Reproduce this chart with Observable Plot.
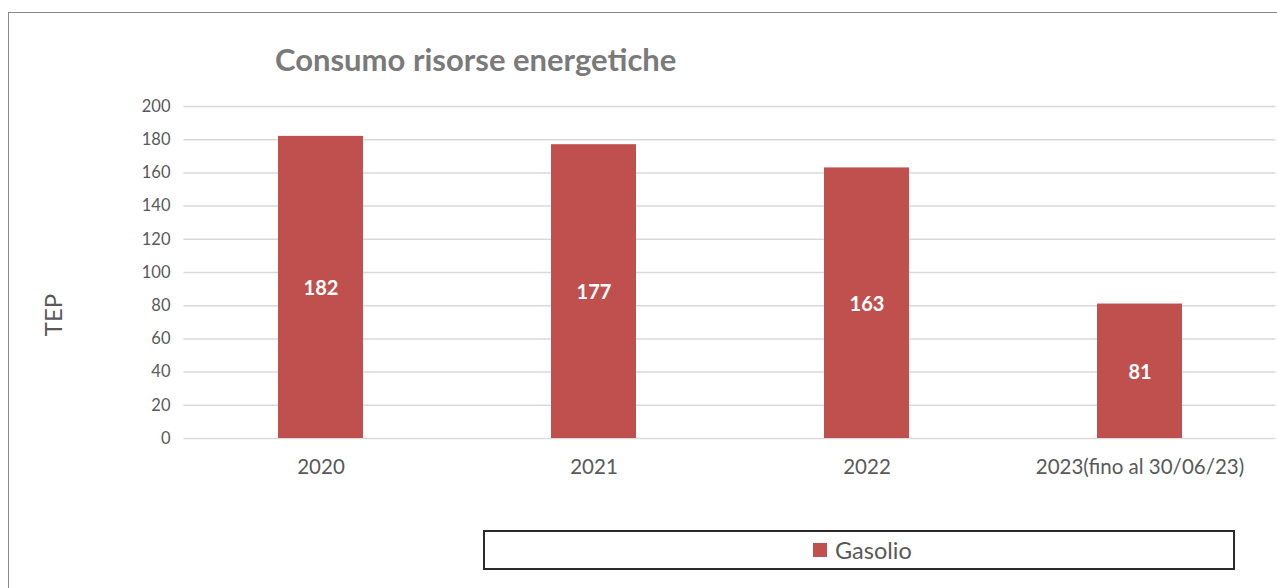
<!DOCTYPE html>
<html>
<head>
<meta charset="utf-8">
<script src="https://cdn.jsdelivr.net/npm/d3@7"></script>
<script src="https://cdn.jsdelivr.net/npm/@observablehq/plot@0.6"></script>
<style>
  html, body { margin: 0; padding: 0; background: #fff; }
  #wrap { position: relative; width: 1277px; height: 588px; overflow: hidden; font-family: Lato, "Open Sans", sans-serif; }
  #frame { position: absolute; left: 8px; top: 12px; width: 1400px; height: 700px; border: 1.5px solid #8a8a8a; box-sizing: border-box; }
  #title { position: absolute; left: 275px; top: 42px; font-size: 31px; font-weight: bold; color: #7a7a7a; line-height: 34px; white-space: nowrap; }
  #ylabel { position: absolute; left: 52px; top: 315px; transform: translate(-50%, -50%) rotate(-90deg); font-size: 24px; color: #595959; white-space: nowrap; }
  #chart { position: absolute; left: 0; top: 90px; }
  #legend { position: absolute; left: 483px; top: 530px; width: 752px; height: 40px; border: 2px solid #2a2a2a; box-sizing: border-box; }
  #legend .item { position: absolute; left: 328px; top: 0; height: 36px; display: flex; align-items: center; font-size: 23.5px; color: #595959; }
  #legend .sw { width: 14px; height: 14px; margin-right: 8px; }
</style>
</head>
<body>
<div id="wrap">
  <div id="frame"></div>
  <div id="title"></div>
  <div id="ylabel"></div>
  <div id="chart"></div>
  <div id="legend"></div>
</div>
<script>
const titleText = "Consumo risorse energetiche";
const yLabel = "TEP";
const categories = ["2020", "2021", "2022", "2023(fino al 30/06/23)"];
const seriesName = "Gasolio";
const values = [182, 177, 163, 81];
const yTicks = [0, 20, 40, 60, 80, 100, 120, 140, 160, 180, 200];
const barColor = "#c0504d";

const data = categories.map((c, i) => ({cat: c, value: values[i]}));

document.getElementById("title").textContent = titleText;
document.getElementById("ylabel").textContent = yLabel;

const chart = Plot.plot({
  width: 1277,
  height: 400,
  marginLeft: 183.5,
  marginRight: 1.5,
  marginTop: 16,
  marginBottom: 52,
  style: { fontFamily: "Lato, 'Open Sans', sans-serif", color: "#595959", background: "transparent", overflow: "visible" },
  x: { domain: categories, paddingInner: 0.69, paddingOuter: 0.345, label: null },
  y: { domain: [0, 200], label: null },
  marks: [
    Plot.gridY(yTicks, { stroke: "#d9d9d9", strokeOpacity: 1, strokeWidth: 1.5 }),
    Plot.barY(data, { x: "cat", y: "value", fill: barColor }),
    Plot.text(data, { x: "cat", y: d => d.value / 2, dy: 1.5, text: d => String(d.value), fill: "white", fontWeight: "bold", fontSize: 20 }),
    Plot.axisY(yTicks, { tickSize: 0, tickPadding: 13.5, fontSize: 16.5, label: null }),
    Plot.axisX({ tickSize: 0, tickPadding: 20.5, fontSize: 20.5, label: null })
  ]
});
document.getElementById("chart").appendChild(chart);

const legend = document.getElementById("legend");
const item = document.createElement("div");
item.className = "item";
const sw = document.createElement("span");
sw.className = "sw";
sw.style.background = barColor;
const lab = document.createElement("span");
lab.textContent = seriesName;
item.appendChild(sw);
item.appendChild(lab);
legend.appendChild(item);
</script>
</body>
</html>
